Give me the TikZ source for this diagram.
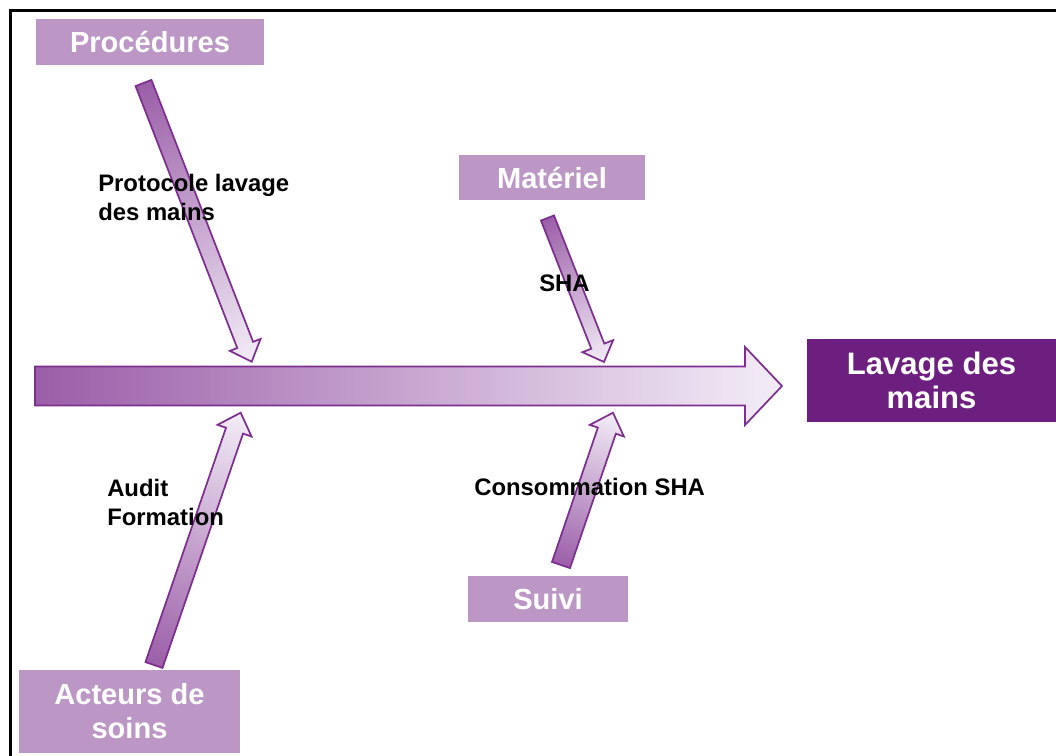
\documentclass[tikz,border=0pt]{standalone}
\usepackage{fontspec}
\setmainfont{Liberation Sans}
\usetikzlibrary{calc}

\definecolor{boneedge}{HTML}{7D2F8F}
\definecolor{bonedark}{HTML}{9B5EA8}
\definecolor{bonelight}{HTML}{F3EDF7}
\definecolor{catfill}{HTML}{BC97C6}
\definecolor{effectfill}{HTML}{6D1F80}

% Shaded block arrow from coordinate #1 to coordinate #2.
% #3 shaft half-width, #4 head half-width, #5 head length (pixels).
\newcommand\blockarrow[5]{%
  \pgfpointdiff{\pgfpointanchor{#1}{center}}{\pgfpointanchor{#2}{center}}%
  \pgfgetlastxy{\arrdx}{\arrdy}%
  \pgfmathsetmacro\arrang{atan2(\arrdy,\arrdx)}%
  \pgfmathsetmacro\arrlen{veclen(\arrdx,\arrdy)}%
  \pgfmathsetmacro\arrbase{\arrlen-0.75*#5}%
  \pgfmathsetmacro\arrsw{0.75*#3}%
  \pgfmathsetmacro\arrhw{0.75*#4}%
  \begin{scope}[transform canvas={shift={(#1)},rotate=\arrang}]
    \path[arrowbody]
      (0pt,-\arrsw pt) -- (\arrbase pt,-\arrsw pt) -- (\arrbase pt,-\arrhw pt)
      -- (\arrlen pt,0pt) -- (\arrbase pt,\arrhw pt) -- (\arrbase pt,\arrsw pt)
      -- (0pt,\arrsw pt) -- cycle;
  \end{scope}%
}

\begin{document}
\begin{tikzpicture}[x=0.75pt,y=-0.75pt,
  arrowbody/.style={draw=boneedge,line width=1.3pt,line join=miter,
    left color=bonedark,right color=bonelight},
  catbox/.style={fill=catfill,text=white,inner sep=0pt,align=center,
    font=\bfseries\fontsize{21.8}{25.5}\selectfont},
  effectbox/.style={fill=effectfill,text=white,inner sep=0pt,align=center,
    font=\bfseries\fontsize{23.3}{25.5}\selectfont},
  causelabel/.style={anchor=west,inner sep=0pt,align=left,
    font=\bfseries\fontsize{17.9}{21.75}\selectfont}]

\useasboundingbox (0,0) rectangle (1056,756);

% frame
\draw[line width=2.3pt] (10.5,756) -- (10.5,10.5) -- (1056,10.5);

% category boxes and effect
\node[catbox,minimum width=171pt,minimum height=34.5pt] (proc) at (150,42) {Procédures};
\node[catbox,minimum width=139.5pt,minimum height=33.75pt] (mat) at (552,177.5) {Matériel};
\node[catbox,minimum width=120pt,minimum height=34.5pt] (suivi) at (548,599) {Suivi};
\node[catbox,minimum width=165.75pt,minimum height=62.25pt] (acteurs) at (129.5,711.5) {Acteurs de\\soins};
\node[effectbox,minimum width=186.75pt,minimum height=62.25pt] (effect) at (931.5,380.5) {Lavage des\\mains};

% arrow end points
\coordinate (spine-tail) at (35,386);
\coordinate (spine-tip) at (782,386);
\coordinate (proc-tail) at (143.5,83);
\coordinate (proc-tip) at (251.7,361.7);
\coordinate (mat-tail) at (547.5,218);
\coordinate (mat-tip) at (604,362);
\coordinate (act-tail) at (154,665);
\coordinate (act-tip) at (240.7,412.7);
\coordinate (suivi-tail) at (561,565);
\coordinate (suivi-tip) at (613,412.7);

% spine and bones
\blockarrow{spine-tail}{spine-tip}{19.5}{39}{37}
\blockarrow{proc-tail}{proc-tip}{8.5}{16.5}{18}
\blockarrow{mat-tail}{mat-tip}{7}{16.5}{17}
\blockarrow{act-tail}{act-tip}{9}{18}{19}
\blockarrow{suivi-tail}{suivi-tip}{9.5}{18}{19}

% causes
\node[causelabel] (proc-cause) at (98,197.5) {Protocole lavage\\des mains};
\node[causelabel] (mat-cause) at (539,283) {SHA};
\node[causelabel] (act-cause) at (107,502) {Audit\\Formation};
\node[causelabel] (suivi-cause) at (474,487) {Consommation SHA};

\end{tikzpicture}
\end{document}
